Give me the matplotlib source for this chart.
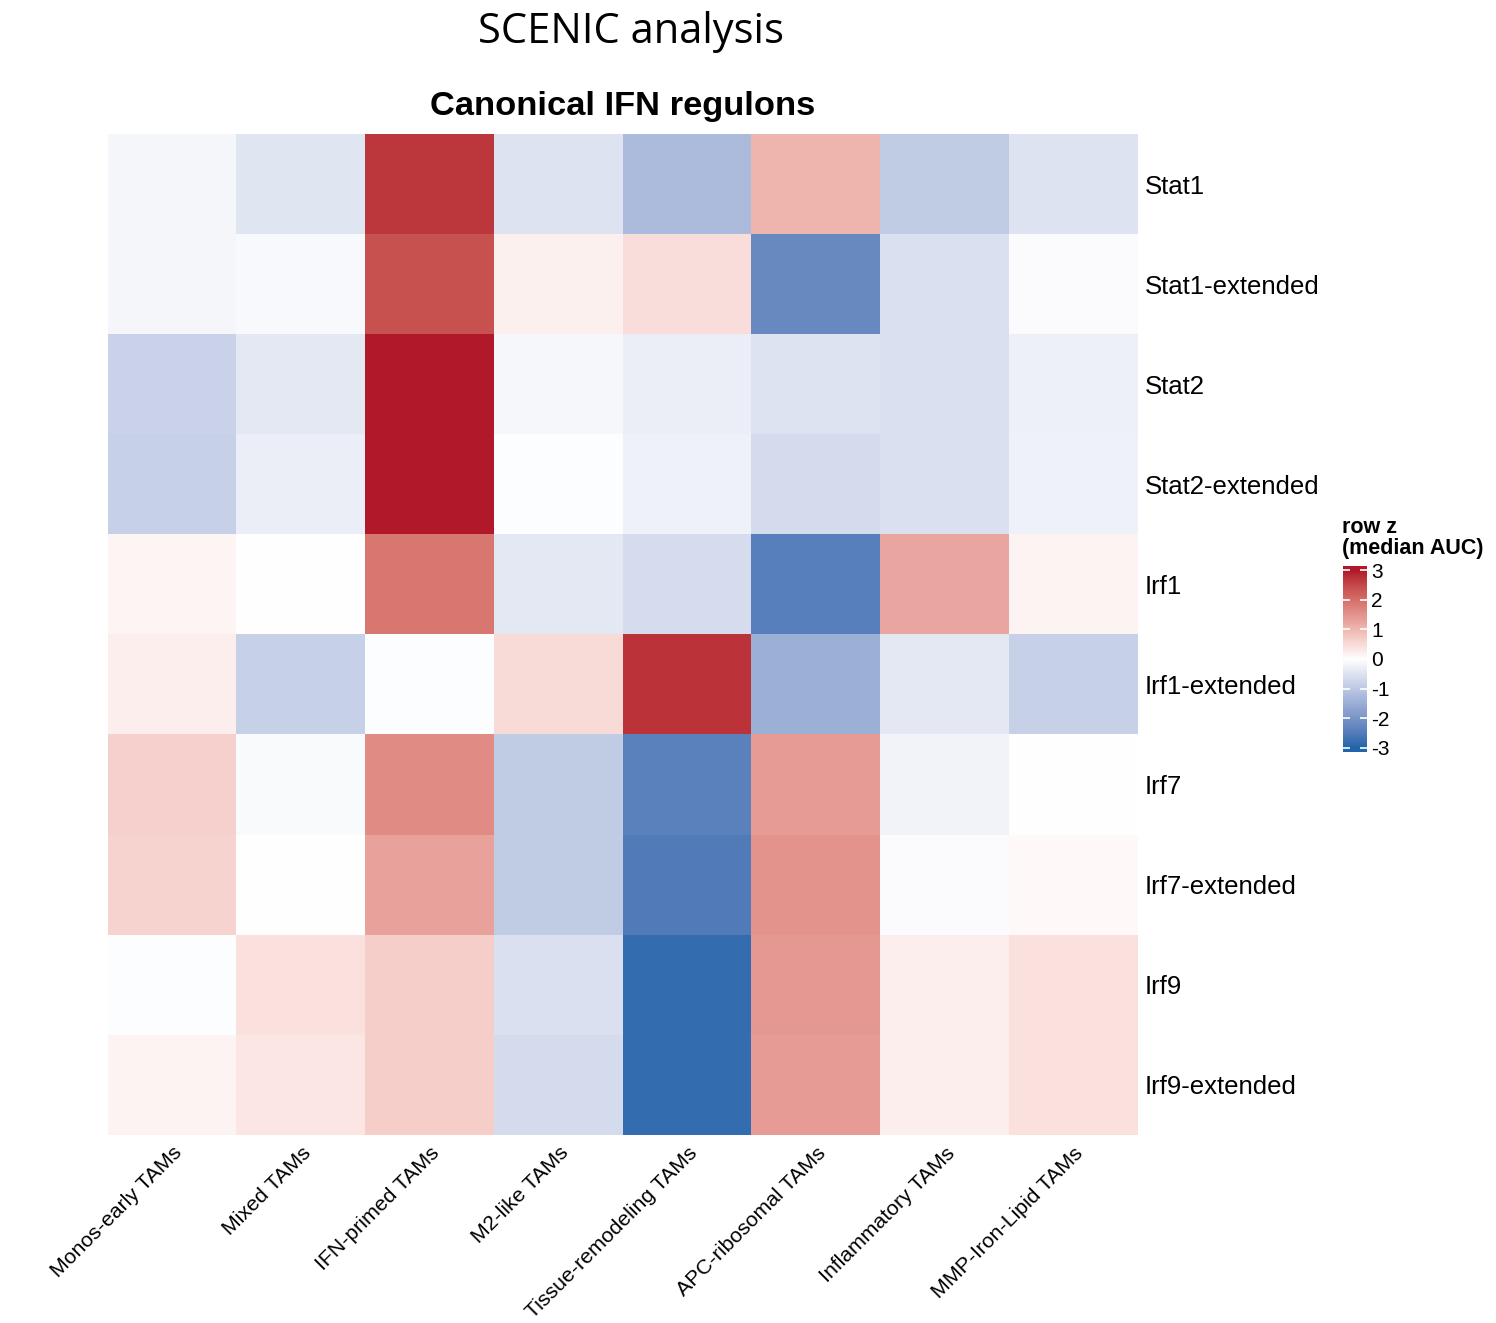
import numpy as np
import matplotlib
matplotlib.use("Agg")
import matplotlib.pyplot as plt
from matplotlib.colors import ListedColormap

# ---------------- data ----------------
cell_types = ["Monos-early TAMs", "Mixed TAMs", "IFN-primed TAMs", "M2-like TAMs",
              "Tissue-remodeling TAMs", "APC-ribosomal TAMs", "Inflammatory TAMs",
              "MMP-Iron-Lipid TAMs"]
regulons = ["Stat1", "Stat1-extended", "Stat2", "Stat2-extended", "Irf1",
            "Irf1-extended", "Irf7", "Irf7-extended", "Irf9", "Irf9-extended"]

stat1     = [-0.15, -0.45, 2.70, -0.50, -1.25, 1.05, -0.95, -0.50]
stat1_ext = [-0.15, -0.10, 2.40, 0.20, 0.45, -2.25, -0.55, -0.07]
stat2     = [-0.80, -0.40, 3.00, -0.12, -0.30, -0.50, -0.55, -0.28]
stat2_ext = [-0.85, -0.30, 3.00, -0.04, -0.25, -0.65, -0.55, -0.25]
irf1      = [0.12, 0.00, 1.90, -0.40, -0.62, -2.45, 1.25, 0.15]
irf1_ext  = [0.22, -0.85, -0.03, 0.50, 2.75, -1.50, -0.40, -0.85]
irf7      = [0.65, -0.08, 1.60, -0.95, -2.40, 1.40, -0.20, -0.02]
irf7_ext  = [0.60, 0.00, 1.30, -0.95, -2.55, 1.50, -0.05, 0.08]
irf9      = [-0.03, 0.40, 0.70, -0.55, -2.85, 1.45, 0.22, 0.40]
irf9_ext  = [0.15, 0.33, 0.70, -0.65, -2.85, 1.40, 0.22, 0.40]

legend_ticks = [3, 2, 1, 0, -1, -2, -3]

# ---------------- colormap (LAB interpolation, like colorRamp2) ----------------
def srgb_to_lab(rgb):
    rgb = np.asarray(rgb, float)
    lin = np.where(rgb <= 0.04045, rgb / 12.92, ((rgb + 0.055) / 1.055) ** 2.4)
    M = np.array([[0.4124564, 0.3575761, 0.1804375],
                  [0.2126729, 0.7151522, 0.0721750],
                  [0.0193339, 0.1191920, 0.9503041]])
    xyz = lin @ M.T
    wp = np.array([0.95047, 1.0, 1.08883])
    t = xyz / wp
    f = np.where(t > (6 / 29) ** 3, np.cbrt(t), t / (3 * (6 / 29) ** 2) + 4 / 29)
    L = 116 * f[..., 1] - 16
    a = 500 * (f[..., 0] - f[..., 1])
    b = 200 * (f[..., 1] - f[..., 2])
    return np.stack([L, a, b], -1)

def lab_to_srgb(lab):
    L, a, b = lab[..., 0], lab[..., 1], lab[..., 2]
    fy_ = (L + 16) / 116
    fx_ = fy_ + a / 500
    fz_ = fy_ - b / 200
    def finv(f):
        return np.where(f > 6 / 29, f ** 3, 3 * (6 / 29) ** 2 * (f - 4 / 29))
    wp = np.array([0.95047, 1.0, 1.08883])
    xyz = np.stack([finv(fx_), finv(fy_), finv(fz_)], -1) * wp
    Minv = np.array([[3.2404542, -1.5371385, -0.4985314],
                     [-0.9692660, 1.8760108, 0.0415560],
                     [0.0556434, -0.2040259, 1.0572252]])
    lin = xyz @ Minv.T
    lin = np.clip(lin, 0, 1)
    rgb = np.where(lin <= 0.0031308, 12.92 * lin, 1.055 * lin ** (1 / 2.4) - 0.055)
    return np.clip(rgb, 0, 1)

blue = np.array([0x21, 0x66, 0xAC]) / 255
white = np.array([1.0, 1.0, 1.0])
red = np.array([0xB2, 0x18, 0x2B]) / 255
lb, lw, lr = srgb_to_lab(blue), srgb_to_lab(white), srgb_to_lab(red)
n = 256
tt = np.linspace(0, 1, n)
labs = []
for t in tt:
    if t <= 0.5:
        s = t / 0.5
        labs.append(lb + (lw - lb) * s)
    else:
        s = (t - 0.5) / 0.5
        labs.append(lw + (lr - lw) * s)
cmap = ListedColormap(lab_to_srgb(np.array(labs)))

# ---------------- figure ----------------
W, H = 1496, 1323
fig = plt.figure(figsize=(W / 100, H / 100), dpi=100)
fig.patch.set_facecolor("white")

def fx(px):
    return px / W

def fy(py):
    return 1 - py / H

data = np.array([stat1, stat1_ext, stat2, stat2_ext, irf1, irf1_ext,
                 irf7, irf7_ext, irf9, irf9_ext])

hx0, hx1, hy0, hy1 = 108, 1138, 134, 1135
ax = fig.add_axes([fx(hx0), fy(hy1), fx(hx1 - hx0), (hy1 - hy0) / H])
ax.imshow(data, cmap=cmap, vmin=-3, vmax=3, aspect="auto", interpolation="nearest")
for s in ax.spines.values():
    s.set_visible(False)
ax.set_xticks(range(len(cell_types)))
ax.set_yticks(range(len(regulons)))
ax.tick_params(length=0)
ax.yaxis.tick_right()
ax.set_yticklabels(regulons, fontsize=18.5, family="Liberation Sans")
ax.tick_params(axis="y", pad=5)
ax.set_xticklabels(cell_types, fontsize=15.3, family="Liberation Sans",
                   rotation=45, ha="right", va="top", rotation_mode="anchor")
ax.tick_params(axis="x", pad=6)

# titles
fig.text(fx(631), fy(32), "SCENIC analysis", ha="center", va="center",
         fontsize=30, family="Open Sans")
fig.text(fx(623), fy(107), "Canonical IFN regulons", ha="center", va="center",
         fontsize=24.8, fontweight="bold", family="Liberation Sans")

# legend
fig.text(fx(1342), fy(538), "row z\n(median AUC)", ha="left", va="center",
         fontsize=15.5, fontweight="bold", family="Liberation Sans", linespacing=1.05)
cax = fig.add_axes([fx(1343), fy(752), fx(24), (752 - 566) / H])
grad = np.linspace(-3.15, 3.15, 256).reshape(-1, 1)
cax.imshow(grad, cmap=cmap, vmin=-3, vmax=3, aspect="auto", origin="lower",
           extent=[0, 1, -3.15, 3.15])
cax.set_xlim(0, 1)
cax.set_ylim(-3.15, 3.15)
cax.set_xticks([])
cax.set_yticks(legend_ticks)
cax.set_yticklabels([str(v) for v in legend_ticks], fontsize=15, family="Liberation Sans")
cax.yaxis.tick_right()
cax.tick_params(axis="y", direction="in", length=5, width=1.2, color="white",
                left=True, right=True, pad=3)
for s in cax.spines.values():
    s.set_visible(False)

fig.savefig("out.png", dpi=100, facecolor="white")
